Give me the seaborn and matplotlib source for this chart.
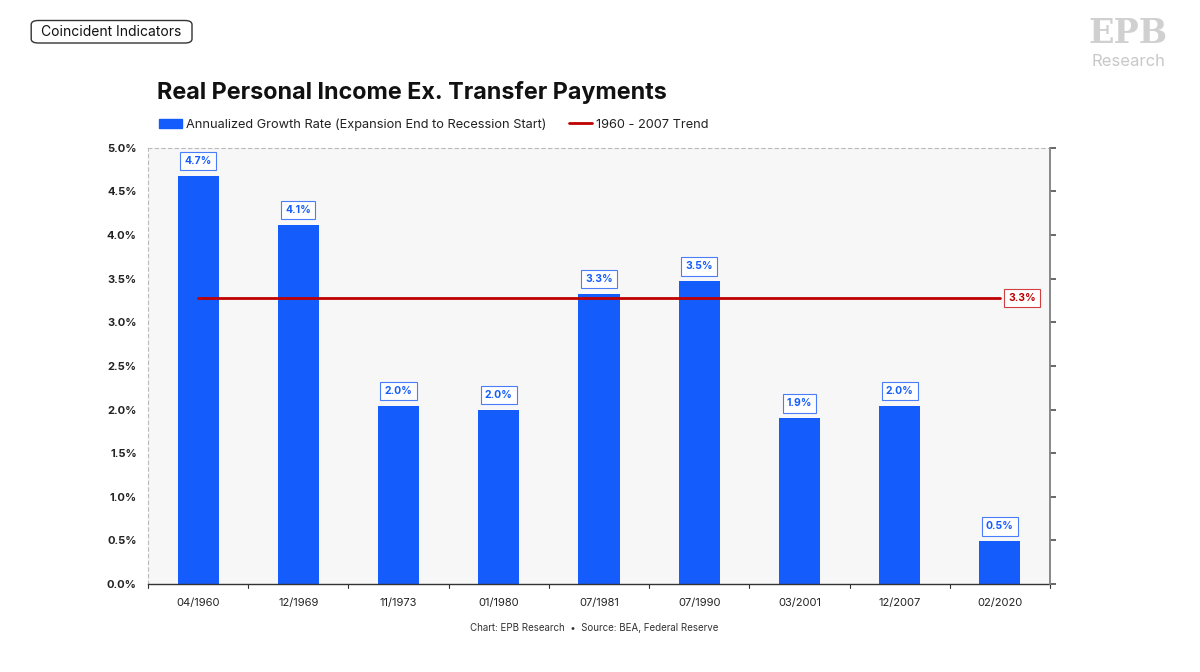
import matplotlib
matplotlib.use("Agg")
import matplotlib.pyplot as plt
import seaborn as sns
import pandas as pd
from matplotlib.patches import FancyBboxPatch, Patch
from matplotlib.lines import Line2D

categories = ["04/1960", "12/1969", "11/1973", "01/1980", "07/1981",
              "07/1990", "03/2001", "12/2007", "02/2020"]
growth = [4.68, 4.12, 2.04, 2.0, 3.33, 3.47, 1.90, 2.04, 0.49]
trend_value = 3.28
bar_labels = ["4.7%", "4.1%", "2.0%", "2.0%", "3.3%", "3.5%", "1.9%", "2.0%", "0.5%"]
yticks = [0.0, 0.5, 1.0, 1.5, 2.0, 2.5, 3.0, 3.5, 4.0, 4.5, 5.0]

sns.set_theme(style="white")
plt.rcParams["font.family"] = ["Inter", "DejaVu Sans"]

BLUE = "#145cfc"
RED = "#c00000"

df = pd.DataFrame({"date": categories, "growth": growth})

fig = plt.figure(figsize=(12, 6.72), dpi=100)
ax = fig.add_axes([0.1233, 0.131, 0.7517, 0.649])
ax.set_facecolor("#f7f7f7")

sns.barplot(data=df, x="date", y="growth", color=BLUE, saturation=1,
            width=0.41, ax=ax, zorder=2, linewidth=0)
ax.set_xlim(-0.5, len(categories) - 0.5)
ax.set_ylim(0, 5.0)
ax.set_yticks(yticks)
ax.set_yticklabels([f"{v:.1f}%" for v in yticks], fontsize=8, fontweight="bold", color="#222222")
ax.set_xlabel("")
ax.set_ylabel("")
ax.tick_params(axis="x", labelsize=8, colors="#222222", length=0, pad=10)
ax.tick_params(axis="y", length=0, pad=8)
for lab in ax.get_xticklabels():
    lab.set_color("#222222")

# boundary ticks on x axis
for b in range(len(categories) + 1):
    ax.plot([b - 0.5, b - 0.5], [0, -0.05], color="#333333", lw=0.8,
            clip_on=False, zorder=3)

# spines
for s in ["left", "top"]:
    ax.spines[s].set_linestyle((0, (3, 3)))
    ax.spines[s].set_color("#bbbbbb")
    ax.spines[s].set_linewidth(0.8)
ax.spines["bottom"].set_color("#333333")
ax.spines["bottom"].set_linewidth(1.0)
ax.spines["right"].set_color("#888888")
ax.spines["right"].set_linewidth(1.2)

ax2 = ax.twinx()
ax2.set_ylim(0, 5.0)
ax2.set_yticks(yticks)
ax2.set_yticklabels([])
ax2.tick_params(axis="y", length=4, color="#555555", direction="out")
for s in ["left", "top", "bottom"]:
    ax2.spines[s].set_visible(False)
ax2.spines["right"].set_color("#888888")
ax2.spines["right"].set_linewidth(1.2)

# trend line
ax.plot([0, len(categories) - 1], [trend_value, trend_value], color=RED, lw=2, zorder=3)
ax.text(len(categories) - 1 + 0.22, trend_value, f"{trend_value:.1f}%", color=RED,
        fontsize=7.5, fontweight="bold", ha="center", va="center", zorder=4,
        bbox=dict(boxstyle="square,pad=0.4", fc="white", ec="#d04040", lw=0.8))

# bar labels
for i, (v, lab) in enumerate(zip(growth, bar_labels)):
    ax.text(i, v + 0.17, lab, color=BLUE, fontsize=7.5, fontweight="bold",
            ha="center", va="center", zorder=4,
            bbox=dict(boxstyle="square,pad=0.4", fc="white", ec="#4a7dfc", lw=0.8))

# title
fig.text(0.131, 0.862, "Real Personal Income Ex. Transfer Payments", fontsize=16.8,
         fontweight="bold", color="#111111", ha="left", va="center")

# legend
handles = [Patch(facecolor=BLUE, edgecolor=BLUE),
           Line2D([0], [0], color=RED, lw=2)]
leg = fig.legend(handles, ["Annualized Growth Rate (Expansion End to Recession Start)",
                           "1960 - 2007 Trend"],
                 loc="center left", bbox_to_anchor=(0.123, 0.815), ncol=2,
                 frameon=False, fontsize=9.2, handlelength=1.8, handletextpad=0.3,
                 columnspacing=1.8)
for t in leg.get_texts():
    t.set_color("#222222")

# top-left tag box
box = FancyBboxPatch((0.026, 0.936), 0.134, 0.0335, boxstyle="round,pad=0,rounding_size=0.006",
                     transform=fig.transFigure, fc="white", ec="#333333", lw=1.0)
fig.patches.append(box)
fig.text(0.093, 0.953, "Coincident Indicators", fontsize=10, ha="center", va="center",
         color="#111111")

# logo
fig.text(0.94, 0.95, "EPB", fontsize=24, fontweight="bold", color="#d0d0d0",
         ha="center", va="center", family=["DejaVu Serif"])
fig.text(0.94, 0.908, "Research", fontsize=12, color="#c8c8c8", ha="center", va="center")

# source
fig.text(0.495, 0.065, "Chart: EPB Research  \u2022  Source: BEA, Federal Reserve",
         fontsize=7, color="#333333", ha="center", va="center")

fig.savefig("out.png", dpi=100)
